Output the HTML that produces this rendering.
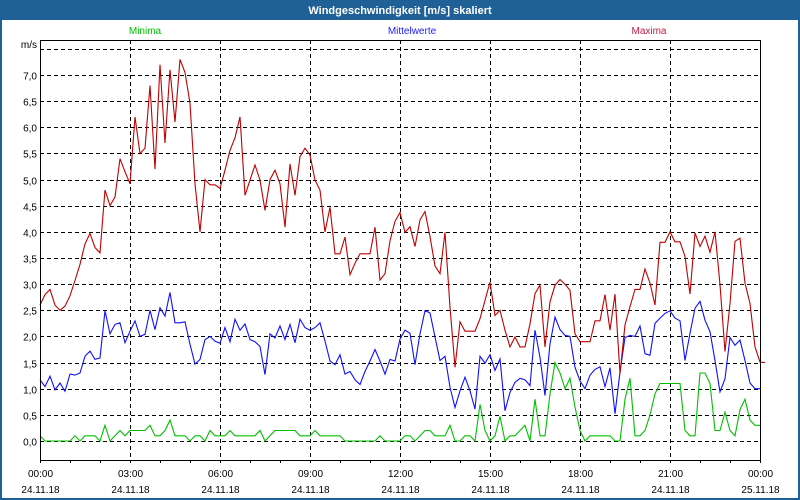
<!DOCTYPE html>
<html><head><meta charset="utf-8">
<style>
html,body{margin:0;padding:0;background:#fff;}
#wrap{position:relative;width:800px;height:500px;overflow:hidden;font-family:"Liberation Sans","DejaVu Sans",sans-serif;}
svg text{font-family:"Liberation Sans","DejaVu Sans",sans-serif;}
</style></head>
<body>
<div id="wrap">
<svg id="chart" width="800" height="500" viewBox="0 0 800 500" xmlns="http://www.w3.org/2000/svg">
  <rect x="0" y="0" width="800" height="500" fill="#1f6096"/>
  <rect x="2" y="20" width="796" height="478" fill="#ffffff"/>
  <text x="400" y="14" fill="#ffffff" font-size="11" font-weight="bold" text-anchor="middle">Windgeschwindigkeit [m/s] skaliert</text>
  <text x="145" y="34" fill="#00c000" font-size="10" text-anchor="middle">Minima</text>
  <text x="412" y="34" fill="#2020ff" font-size="10" text-anchor="middle">Mittelwerte</text>
  <text x="649" y="34" fill="#c02040" font-size="10" text-anchor="middle">Maxima</text>
  <text x="37" y="48" fill="#000" font-size="10" text-anchor="end">m/s</text>
  <g id="grid"></g>
  <g id="series"></g>
  <g id="axes"></g>
</svg>
</div>
<script>
const yTicks = [0,0.5,1,1.5,2,2.5,3,3.5,4,4.5,5,5.5,6,6.5,7,7.5];
const yTickLabels = ["0,0","0,5","1,0","1,5","2,0","2,5","3,0","3,5","4,0","4,5","5,0","5,5","6,0","6,5","7,0",""];
const xTickHours = [0,3,6,9,12,15,18,21,24];
const xTickTimes = ["00:00","03:00","06:00","09:00","12:00","15:00","18:00","21:00","00:00"];
const xTickDates = ["24.11.18","24.11.18","24.11.18","24.11.18","24.11.18","24.11.18","24.11.18","24.11.18","25.11.18"];
const sampleMinutes = 10;

const maxima = [2.6,2.8,2.9,2.6,2.5,2.58,2.78,3.07,3.38,3.77,3.97,3.7,3.6,4.8,4.5,4.67,5.4,5.15,4.92,6.2,5.5,5.6,6.8,5.2,7.2,5.7,7.1,6.1,7.3,7.05,6.46,4.92,4.0,5.0,4.9,4.9,4.83,5.18,5.56,5.8,6.2,4.7,4.99,5.28,4.99,4.41,5.0,5.18,4.92,4.09,5.3,4.7,5.44,5.6,5.47,4.99,4.8,4.0,4.47,3.58,3.58,3.9,3.18,3.4,3.58,3.58,3.58,4.09,3.08,3.2,3.83,4.2,4.37,3.99,4.1,3.72,4.23,4.39,3.91,3.35,3.2,3.99,2.56,1.41,2.28,2.1,2.1,2.1,2.34,2.69,3.04,2.4,2.5,2.12,1.8,1.99,1.8,1.8,2.24,2.82,2.98,1.8,2.66,2.98,3.09,3.0,2.88,2.05,1.9,1.9,1.9,2.3,2.3,2.8,2.12,2.81,1.29,2.22,2.57,2.9,2.9,3.29,3.02,2.6,3.8,3.8,4.0,3.81,3.81,3.53,2.81,3.98,3.72,3.92,3.61,4.0,2.99,1.71,2.63,3.82,3.88,3.02,2.63,1.8,1.51,1.5];
const mittelwerte = [1.17,1.04,1.24,0.98,1.11,0.95,1.28,1.26,1.3,1.62,1.72,1.56,1.59,2.49,2.05,2.23,2.26,1.88,2.1,2.3,2.0,2.04,2.5,2.13,2.55,2.39,2.84,2.26,2.26,2.28,1.85,1.47,1.56,1.94,2.0,1.91,1.87,2.17,1.9,2.33,2.12,2.24,1.94,1.9,1.81,1.27,2.05,1.97,2.2,1.94,2.23,1.88,2.33,2.17,2.12,2.17,2.26,1.91,1.53,1.46,1.65,1.28,1.33,1.17,1.08,1.33,1.53,1.75,1.53,1.28,1.56,1.53,1.95,2.12,2.06,1.46,2.05,2.49,2.45,1.99,1.54,1.62,1.03,0.64,0.96,1.22,0.96,0.61,1.62,1.49,1.65,1.35,1.57,0.58,0.93,1.12,1.2,1.17,1.06,2.12,1.6,0.87,1.86,2.37,2.13,2.02,2.0,1.41,1.15,1.0,1.26,1.37,1.42,1.04,1.4,0.52,1.32,1.98,2.02,2.0,2.2,1.67,1.64,2.25,2.35,2.44,2.49,2.35,2.3,1.54,2.06,2.54,2.67,2.31,2.09,1.54,0.94,1.19,1.98,1.83,1.93,1.54,1.11,1.0,1.0];
const minima = [0.1,0,0,0,0,0,0,0.1,0,0.1,0.1,0.1,0,0.3,0,0.1,0.2,0.1,0.2,0.2,0.2,0.2,0.3,0.1,0.1,0.2,0.4,0.1,0.1,0.1,0,0.1,0.1,0,0.2,0.1,0.1,0.1,0.2,0.1,0.1,0.1,0.1,0.1,0.2,0,0.1,0.2,0.2,0.2,0.2,0.2,0.1,0.1,0.1,0.2,0.1,0.1,0.1,0.1,0.1,0,0,0,0,0,0,0,0.1,0,0,0,0,0.1,0.1,0,0.1,0.2,0.2,0.1,0.1,0.1,0.3,0,0,0.1,0.1,0,0.7,0.2,0,0.1,0.47,0,0.1,0.1,0.2,0.3,0,0.8,0.1,0.1,0.9,1.5,1.3,1.0,1.2,0.65,0.2,0,0.1,0.1,0.1,0.1,0.1,0,0,0.8,1.2,0.1,0.1,0.2,0.5,0.9,1.1,1.1,1.1,1.1,1.1,0.2,0.1,0.1,1.3,1.3,1.1,0.2,0.2,0.55,0.2,0.1,0.6,0.8,0.4,0.3,0.3];

const NS = "http://www.w3.org/2000/svg";
const L = 40, R = 760, T = 40, B = 460;
function yScale(v){ return 441 - v * 52.28; }
function xScaleMin(m){ return L + (m / (24*60)) * (R - L); }
function mk(tag, attrs, parent){ const e = document.createElementNS(NS, tag); for (const k in attrs) e.setAttribute(k, attrs[k]); parent.appendChild(e); return e; }

const grid = document.getElementById('grid');
const axes = document.getElementById('axes');
const series = document.getElementById('series');

yTicks.forEach((v, i) => {
  const y = Math.round(yScale(v)) + 0.5;
  const ln = mk('line', {x1:L, x2:R, y1:y, y2:y, stroke:'#000', 'stroke-width':1, 'stroke-dasharray':'4,3'}, grid);
  
  
  if (yTickLabels[i]) {
    const t = mk('text', {x:37, y:y+4, 'font-size':10, 'text-anchor':'end', fill:'#000'}, axes);
    t.textContent = yTickLabels[i];
    
    
  }
});

xTickHours.forEach((h, i) => {
  const x = Math.round(xScaleMin(h*60)) + 0.5;
  if (i > 0 && i < xTickHours.length - 1) {
    const ln = mk('line', {x1:x, x2:x, y1:T, y2:B+3, stroke:'#000', 'stroke-width':1, 'stroke-dasharray':'4,3'}, grid);
    
    
  }
  const t1 = mk('text', {x:x, y:477, 'font-size':10, 'text-anchor':'middle', fill:'#000'}, axes);
  t1.textContent = xTickTimes[i];
  
  
  const t2 = mk('text', {x:x, y:493, 'font-size':10, 'text-anchor':'middle', fill:'#000'}, axes);
  t2.textContent = xTickDates[i];
  
  
});
for (let h = 0; h <= 24; h++) {
  const x = Math.round(xScaleMin(h*60)) + 0.5;
  const tk = mk('line', {x1:x, x2:x, y1:B, y2:B+3, stroke:'#000', 'stroke-width':1}, axes);
  
  
}

const frame = mk('rect', {x:L+0.5, y:T+0.5, width:R-L, height:B-T, fill:'none', stroke:'#000', 'stroke-width':1}, axes);



function drawSeries(vals, color, name) {
  const pts = vals.map((v, i) => xScaleMin(i*sampleMinutes).toFixed(1) + ',' + yScale(v).toFixed(1)).join(' ');
  const pl = mk('polyline', {points:pts, fill:'none', stroke:color, 'stroke-width':1.1, 'stroke-linejoin':'miter'}, series);
  
  
}
drawSeries(minima, '#00c000', 'minima-line');
drawSeries(mittelwerte, '#1010ff', 'mittelwerte-line');
drawSeries(maxima, '#c00000', 'maxima-line');
</script>
</body></html>
